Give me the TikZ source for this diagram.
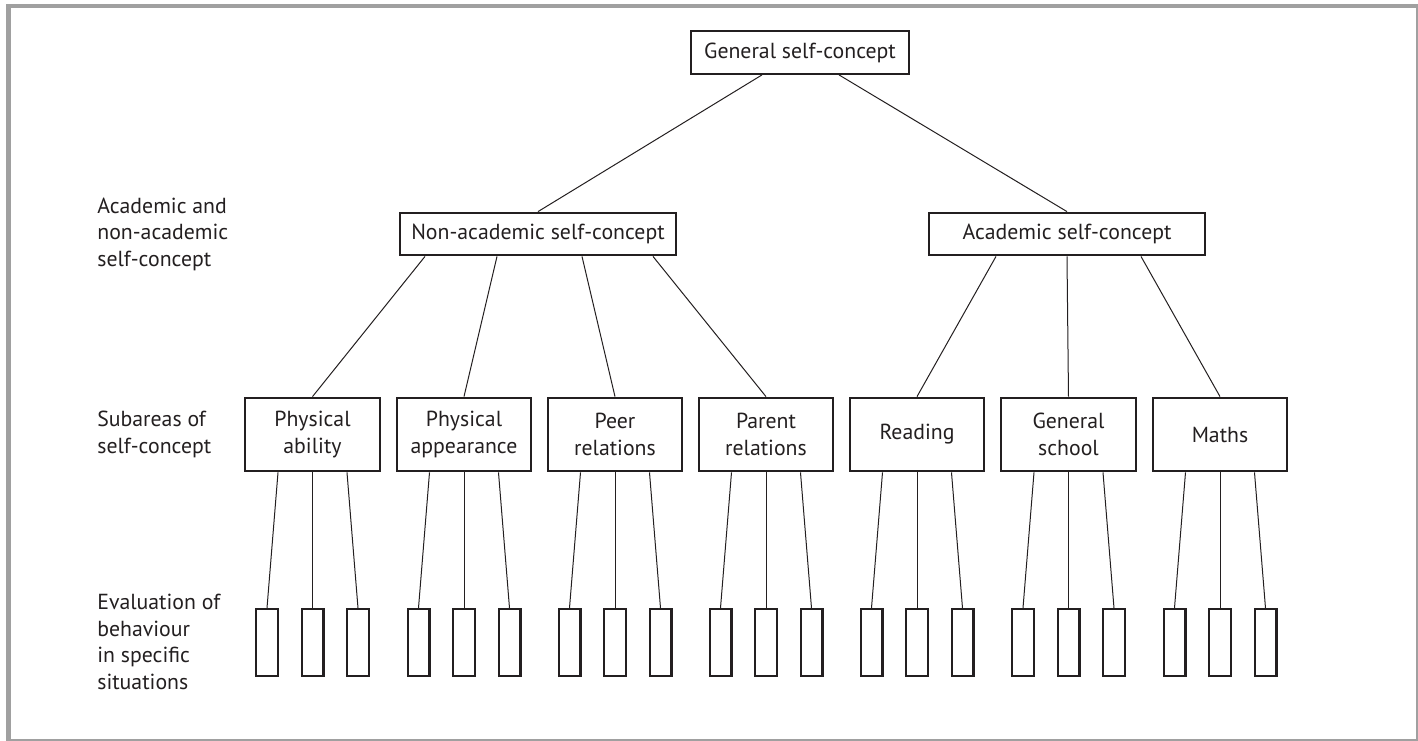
\documentclass[tikz,border=0pt]{standalone}
\usepackage{fontspec}
\setmainfont{PT Sans}
\definecolor{cadre}{HTML}{A0A0A0}
\definecolor{encre}{HTML}{231F20}

\begin{document}
\begin{tikzpicture}[x=0.02cm, y=-0.02cm]
\tikzset{boite/.style={draw=encre, line width=0.046cm, text=encre, align=center, inner sep=0pt, font=\fontsize{12.4}{15.1}\selectfont}}
\tikzset{grandeboite/.style={boite, minimum width=5.51cm, minimum height=0.85cm}}
\tikzset{sousboite/.style={boite, minimum width=2.69cm, minimum height=1.47cm}}
\tikzset{petiteboite/.style={draw=encre, line width=0.046cm, minimum width=0.434cm, minimum height=1.334cm, inner sep=0pt}}
\tikzset{niveau/.style={anchor=west, align=left, text=encre, inner sep=0pt, font=\fontsize{12.4}{15.1}\selectfont}}
\tikzset{lien/.style={draw=encre, line width=0.02cm}}
\useasboundingbox (0,0) rectangle (1418,741);
\draw[cadre, line width=0.03cm] (8,6) rectangle (1417,740);
\draw[cadre, line width=0.086cm] (6,6.2) -- (1418,6.2);
\draw[cadre, line width=0.09cm] (8.3,4) -- (8.3,741);
% niveaux
\node[niveau] (L2) at (97,234) {Academic and\\non-academic\\self-concept};
\node[niveau] (L3) at (97,434.5) {Subareas of\\self-concept};
\node[niveau] (L4) at (97,642) {Evaluation of\\behaviour\\in specific\\situations};
% boites
\node[boite, minimum height=0.85cm, inner xsep=0.26cm] (G) at (800,52.5) {General self-concept};
\node[grandeboite] (NA) at (538,234) {Non-academic self-concept};
\node[grandeboite] (A) at (1067,234) {Academic self-concept};
\node[sousboite] (S1) at (312.5,434.5) {Physical\\ability};
\node[sousboite] (S2) at (464,434.5) {Physical\\appearance};
\node[sousboite] (S3) at (615,434.5) {Peer\\relations};
\node[sousboite] (S4) at (766,434.5) {Parent\\relations};
\node[sousboite] (S5) at (917,434.5) {Reading};
\node[sousboite] (S6) at (1068.5,434.5) {General\\school};
\node[sousboite] (S7) at (1220,434.5) {Maths};
\node[petiteboite] (E11) at (267,642.5) {};
\node[petiteboite] (E12) at (312.5,642.5) {};
\node[petiteboite] (E13) at (358,642.5) {};
\node[petiteboite] (E21) at (418.5,642.5) {};
\node[petiteboite] (E22) at (464,642.5) {};
\node[petiteboite] (E23) at (509.5,642.5) {};
\node[petiteboite] (E31) at (569.5,642.5) {};
\node[petiteboite] (E32) at (615,642.5) {};
\node[petiteboite] (E33) at (660.5,642.5) {};
\node[petiteboite] (E41) at (720.5,642.5) {};
\node[petiteboite] (E42) at (766,642.5) {};
\node[petiteboite] (E43) at (811.5,642.5) {};
\node[petiteboite] (E51) at (871.5,642.5) {};
\node[petiteboite] (E52) at (917,642.5) {};
\node[petiteboite] (E53) at (962.5,642.5) {};
\node[petiteboite] (E61) at (1023,642.5) {};
\node[petiteboite] (E62) at (1068.5,642.5) {};
\node[petiteboite] (E63) at (1114,642.5) {};
\node[petiteboite] (E71) at (1174.5,642.5) {};
\node[petiteboite] (E72) at (1220,642.5) {};
\node[petiteboite] (E73) at (1265.5,642.5) {};
% liens
\draw[lien] ([xshift=-0.76cm]G.south) -- (NA.north);
\draw[lien] ([xshift=0.78cm]G.south) -- (A.north);
\draw[lien] ([xshift=-2.26cm]NA.south) -- (S1.north);
\draw[lien] ([xshift=-0.82cm]NA.south) -- (S2.north);
\draw[lien] ([xshift=0.88cm]NA.south) -- (S3.north);
\draw[lien] ([xshift=2.30cm]NA.south) -- (S4.north);
\draw[lien] ([xshift=-1.42cm]A.south) -- (S5.north);
\draw[lien] (A.south) -- (S6.north);
\draw[lien] ([xshift=1.48cm]A.south) -- (S7.north);
\draw[lien] ([xshift=-0.69cm]S1.south) -- (E11.north);
\draw[lien] (S1.south) -- (E12.north);
\draw[lien] ([xshift=0.69cm]S1.south) -- (E13.north);
\draw[lien] ([xshift=-0.69cm]S2.south) -- (E21.north);
\draw[lien] (S2.south) -- (E22.north);
\draw[lien] ([xshift=0.69cm]S2.south) -- (E23.north);
\draw[lien] ([xshift=-0.69cm]S3.south) -- (E31.north);
\draw[lien] (S3.south) -- (E32.north);
\draw[lien] ([xshift=0.69cm]S3.south) -- (E33.north);
\draw[lien] ([xshift=-0.69cm]S4.south) -- (E41.north);
\draw[lien] (S4.south) -- (E42.north);
\draw[lien] ([xshift=0.69cm]S4.south) -- (E43.north);
\draw[lien] ([xshift=-0.69cm]S5.south) -- (E51.north);
\draw[lien] (S5.south) -- (E52.north);
\draw[lien] ([xshift=0.69cm]S5.south) -- (E53.north);
\draw[lien] ([xshift=-0.69cm]S6.south) -- (E61.north);
\draw[lien] (S6.south) -- (E62.north);
\draw[lien] ([xshift=0.69cm]S6.south) -- (E63.north);
\draw[lien] ([xshift=-0.69cm]S7.south) -- (E71.north);
\draw[lien] (S7.south) -- (E72.north);
\draw[lien] ([xshift=0.69cm]S7.south) -- (E73.north);
\end{tikzpicture}
\end{document}
